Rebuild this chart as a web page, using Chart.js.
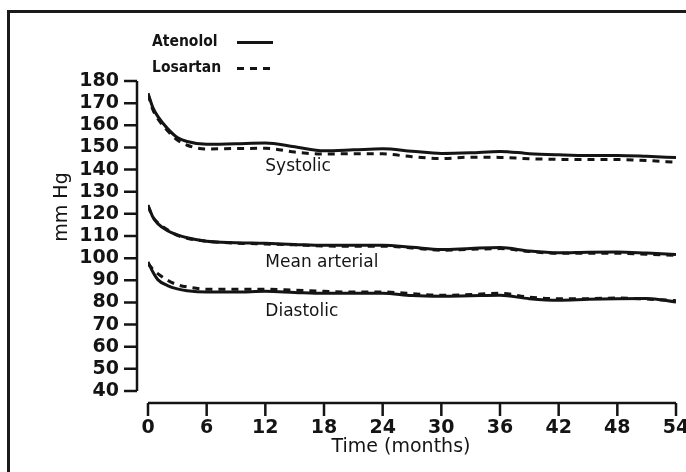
<!DOCTYPE html>
<html>
<head>
<meta charset="utf-8">
<title>Blood pressure: atenolol vs losartan</title>
<script src="https://cdn.jsdelivr.net/npm/chart.js@4.4.0/dist/chart.umd.min.js"></script>
<style>
  html, body { margin: 0; padding: 0; background: #fff; overflow: hidden; }
  .wrap { position: relative; width: 686px; height: 472px; }
  .frame {
    position: absolute; left: 7px; top: 10px; width: 700px; height: 480px;
    border-top: 3px solid #1a1a1a; border-left: 3px solid #1a1a1a;
    pointer-events: none;
  }
  canvas { position: absolute; left: 0; top: 0; }
</style>
</head>
<body>
<div class="wrap">
  <div class="frame"></div>
  <canvas id="bpChart" width="686" height="472"></canvas>
</div>
<script>
// months of follow-up
const months = [0, 0.5, 1, 2, 3, 4, 6, 9, 12, 15, 18, 21, 24, 27, 30, 33, 36, 39, 42, 45, 48, 51, 54];

// mm Hg, read per visit
const sysAtenolol  = [174.5, 168, 164, 158.5, 154.5, 152.7, 151.4, 151.7, 152, 150.3, 148.5, 148.9, 149.4, 148.3, 147.3, 147.6, 148.2, 147.2, 146.7, 146.4, 146.4, 146, 145.4];
const sysLosartan  = [174, 167, 163, 157.5, 153.3, 151, 149.3, 149.5, 149.6, 147.9, 147, 147.2, 147.1, 145.8, 145, 145.6, 145.5, 144.9, 144.6, 144.5, 144.5, 144.1, 143.3];
const mapAtenolol  = [124, 118.6, 115.6, 112.4, 110.5, 109.2, 107.6, 107, 106.7, 106.2, 105.8, 105.8, 105.8, 104.9, 103.9, 104.4, 104.8, 103.2, 102.4, 102.7, 102.8, 102.3, 101.7];
const mapLosartan  = [123.5, 118.5, 116, 112.8, 110.3, 109, 107.6, 106.8, 106.4, 106, 105.5, 105.4, 105.4, 104.6, 103.6, 104, 104.3, 103, 102.2, 102.2, 102.2, 101.8, 101.2];
const diaAtenolol  = [98.3, 93.7, 90.3, 87.6, 86.1, 85.3, 84.7, 84.7, 85, 84.5, 84.1, 84.1, 84.2, 83.1, 82.8, 83, 83.2, 81.7, 81, 81.4, 81.7, 81.8, 80.2];
const diaLosartan  = [97.5, 95, 93, 90, 88, 87, 86, 86, 86, 85.5, 85, 84.7, 84.7, 84, 83.2, 83.6, 84.1, 82.4, 81.7, 81.7, 82, 81.5, 80.8];

const xTicks = [0, 6, 12, 18, 24, 30, 36, 42, 48, 54];
const yTicks = [40, 50, 60, 70, 80, 90, 100, 110, 120, 130, 140, 150, 160, 170, 180];

const drugs = ["Atenolol", "Losartan"];
// curve label text and its anchor (month, mm Hg)
const curveNames = ["Systolic", "Mean arterial", "Diastolic"];
const curveNameAt = [[12, 141.5], [12, 98], [12, 75.8]];

const INK = "#141414";
const FONT = "'DejaVu Sans', sans-serif";
const NARROW = "'DejaVu Sans Condensed', 'DejaVu Sans', sans-serif";

function pts(ys) {
  return months.map((m, i) => ({ x: m, y: ys[i] }));
}

function series(label, ys, dashed) {
  return {
    label,
    data: pts(ys),
    borderColor: INK,
    backgroundColor: "transparent",
    borderWidth: 3,
    borderDash: dashed ? [7, 6] : [],
    pointRadius: 0,
    cubicInterpolationMode: "monotone",
  };
}

// axis lines are drawn detached from the plot area, plus legend and curve names
const decorations = {
  id: "decorations",
  afterDraw(chart) {
    const { ctx, chartArea, scales } = chart;
    const xs = scales.x, ys = scales.y;
    ctx.save();
    ctx.strokeStyle = INK;
    ctx.fillStyle = INK;
    ctx.lineWidth = 2.5;
    ctx.setLineDash([]);

    // y axis
    const ax = chartArea.left - 11;
    ctx.beginPath();
    ctx.moveTo(ax, ys.getPixelForValue(180));
    ctx.lineTo(ax, ys.getPixelForValue(40));
    yTicks.forEach((v) => {
      const py = ys.getPixelForValue(v);
      ctx.moveTo(ax - 13, py);
      ctx.lineTo(ax, py);
    });
    ctx.stroke();

    // x axis
    const ay = chartArea.bottom + 12;
    ctx.beginPath();
    ctx.moveTo(xs.getPixelForValue(0), ay);
    ctx.lineTo(xs.getPixelForValue(54), ay);
    xTicks.forEach((v) => {
      const px = xs.getPixelForValue(v);
      ctx.moveTo(px, ay);
      ctx.lineTo(px, ay + 13);
    });
    ctx.stroke();

    // axis titles
    ctx.font = "19px " + FONT;
    ctx.textAlign = "center";
    ctx.textBaseline = "middle";
    ctx.fillText("Time (months)", 401, 447);
    ctx.save();
    ctx.translate(62, 207);
    ctx.rotate(-Math.PI / 2);
    ctx.fillText("mm Hg", 0, 0);
    ctx.restore();

    // curve names
    ctx.font = "17px " + FONT;
    ctx.textAlign = "left";
    curveNames.forEach((name, i) => {
      const [m, v] = curveNameAt[i];
      ctx.fillText(name, xs.getPixelForValue(m), ys.getPixelForValue(v));
    });

    // legend: name followed by a line sample
    ctx.font = "bold 15.5px " + NARROW;
    drugs.forEach((name, i) => {
      const ds = chart.data.datasets[i];
      const y = 42 + i * 26;
      ctx.fillText(name, 152, y);
      ctx.beginPath();
      ctx.lineWidth = ds.borderWidth;
      ctx.setLineDash(ds.borderDash);
      ctx.moveTo(237, y + 0.5);
      ctx.lineTo(273, y + 0.5);
      ctx.stroke();
    });
    ctx.restore();
  },
};

new Chart(document.getElementById("bpChart"), {
  type: "line",
  data: {
    datasets: [
      series("Atenolol", sysAtenolol, false),
      series("Losartan", sysLosartan, true),
      series("Atenolol MAP", mapAtenolol, false),
      series("Losartan MAP", mapLosartan, true),
      series("Atenolol DBP", diaAtenolol, false),
      series("Losartan DBP", diaLosartan, true),
    ],
  },
  options: {
    responsive: false,
    animation: false,
    layout: { padding: { top: 81, right: 10, left: 0, bottom: 0 } },
    plugins: { legend: { display: false }, tooltip: { enabled: false } },
    scales: {
      x: {
        type: "linear",
        min: 0,
        max: 54,
        afterBuildTicks: (s) => { s.ticks = xTicks.map((v) => ({ value: v })); },
        afterFit: (s) => { s.height = 81; s.paddingLeft = 0; s.paddingRight = 0; },
        grid: { display: false, drawTicks: false },
        border: { display: false },
        ticks: { color: INK, font: { family: FONT, size: 19, weight: "bold" }, padding: 26, maxRotation: 0, autoSkip: false },
      },
      y: {
        type: "linear",
        min: 40,
        max: 180,
        afterBuildTicks: (s) => { s.ticks = yTicks.map((v) => ({ value: v })); },
        afterFit: (s) => { s.width = 148; },
        grid: { display: false, drawTicks: false },
        border: { display: false },
        ticks: { color: INK, font: { family: FONT, size: 19, weight: "bold" }, padding: 29, autoSkip: false },
      },
    },
  },
  plugins: [decorations],
});
</script>
</body>
</html>
